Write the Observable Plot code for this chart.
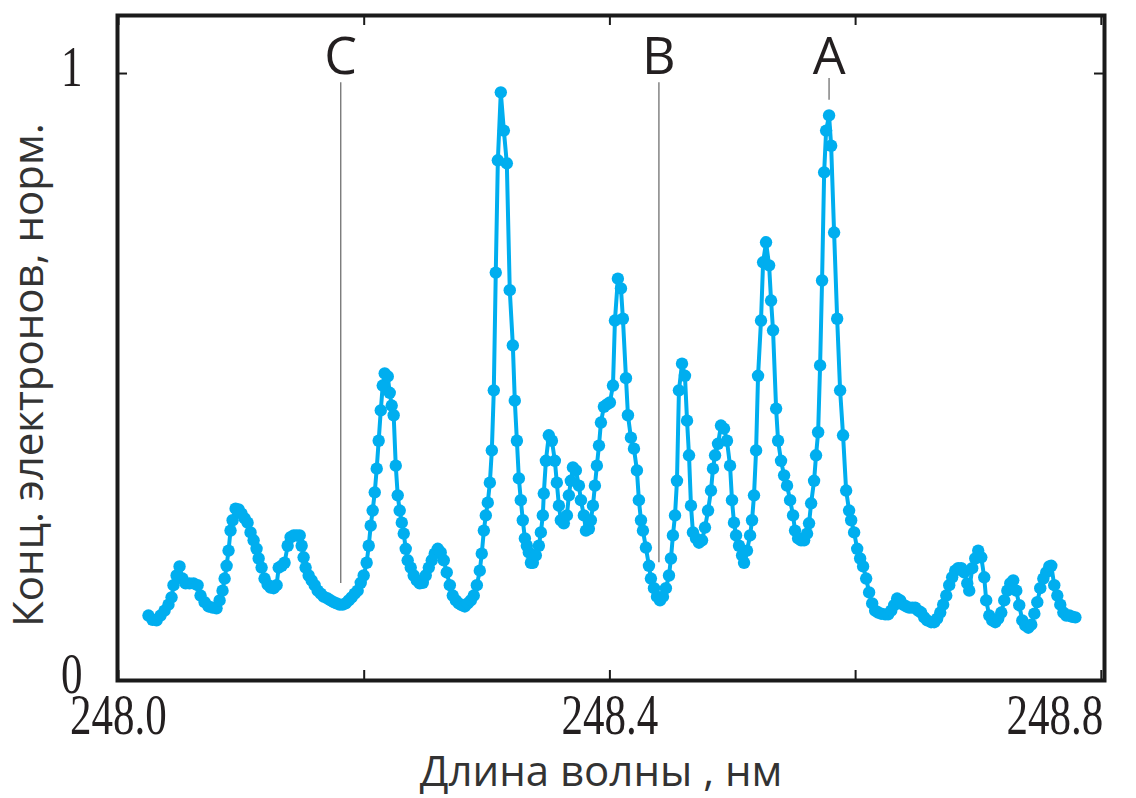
<!DOCTYPE html>
<html>
<head>
<meta charset="utf-8">
<script src="https://cdn.jsdelivr.net/npm/d3@7"></script>
<script src="https://cdn.jsdelivr.net/npm/@observablehq/plot@0.6"></script>
<style>
  html, body { margin: 0; padding: 0; background: #fff; }
  #chart { width: 1136px; height: 798px; }
</style>
</head>
<body>
<div id="chart"></div>
<script>
// ---- data ----
const wavelength = [
248.0244,248.0277,248.0310,248.0342,248.0375,248.0407,248.0432,248.0448,248.0473,248.0497,
248.0521,248.0546,248.0578,248.0611,248.0644,248.0668,248.0701,248.0733,248.0766,248.0798,
248.0823,248.0847,248.0864,248.0880,248.0896,248.0912,248.0929,248.0953,248.0978,248.1002,
248.1027,248.1051,248.1075,248.1100,248.1124,248.1141,248.1165,248.1189,248.1214,248.1238,
248.1263,248.1287,248.1304,248.1328,248.1352,248.1377,248.1401,248.1426,248.1450,248.1475,
248.1491,248.1507,248.1523,248.1548,248.1572,248.1597,248.1621,248.1646,248.1670,248.1703,
248.1727,248.1752,248.1776,248.1800,248.1825,248.1849,248.1874,248.1898,248.1923,248.1947,
248.1972,248.1996,248.2020,248.2037,248.2053,248.2069,248.2086,248.2102,248.2118,248.2135,
248.2151,248.2167,248.2192,248.2208,248.2224,248.2240,248.2257,248.2273,248.2289,248.2306,
248.2322,248.2338,248.2354,248.2379,248.2403,248.2428,248.2452,248.2477,248.2501,248.2526,
248.2550,248.2574,248.2599,248.2623,248.2648,248.2672,248.2697,248.2721,248.2746,248.2770,
248.2794,248.2819,248.2843,248.2868,248.2892,248.2917,248.2941,248.2957,248.2974,248.2990,
248.3006,248.3023,248.3039,248.3055,248.3071,248.3088,248.3112,248.3137,248.3161,248.3185,
248.3210,248.3226,248.3243,248.3259,248.3275,248.3291,248.3308,248.3324,248.3340,248.3357,
248.3373,248.3397,248.3422,248.3438,248.3454,248.3462,248.3479,248.3503,248.3528,248.3552,
248.3568,248.3585,248.3601,248.3625,248.3650,248.3666,248.3682,248.3699,248.3723,248.3748,
248.3764,248.3788,248.3805,248.3829,248.3845,248.3862,248.3878,248.3894,248.3911,248.3927,
248.3951,248.3976,248.4000,248.4025,248.4041,248.4065,248.4090,248.4106,248.4131,248.4147,
248.4171,248.4196,248.4220,248.4236,248.4253,248.4269,248.4293,248.4318,248.4334,248.4359,
248.4383,248.4408,248.4432,248.4456,248.4481,248.4497,248.4513,248.4530,248.4546,248.4562,
248.4587,248.4611,248.4628,248.4644,248.4660,248.4676,248.4701,248.4725,248.4750,248.4774,
248.4799,248.4823,248.4839,248.4856,248.4880,248.4904,248.4929,248.4953,248.4978,248.4994,
248.5010,248.5027,248.5051,248.5076,248.5092,248.5116,248.5141,248.5157,248.5173,248.5190,
248.5206,248.5230,248.5247,248.5271,248.5296,248.5312,248.5328,248.5353,248.5369,248.5393,
248.5418,248.5442,248.5467,248.5491,248.5507,248.5532,248.5556,248.5581,248.5605,248.5621,
248.5638,248.5662,248.5678,248.5695,248.5711,248.5727,248.5744,248.5760,248.5784,248.5801,
248.5825,248.5850,248.5874,248.5898,248.5923,248.5947,248.5964,248.5988,248.6013,248.6037,
248.6061,248.6086,248.6110,248.6135,248.6159,248.6184,248.6208,248.6241,248.6265,248.6290,
248.6314,248.6338,248.6363,248.6387,248.6412,248.6436,248.6461,248.6485,248.6509,248.6534,
248.6558,248.6583,248.6615,248.6640,248.6664,248.6689,248.6713,248.6738,248.6762,248.6786,
248.6811,248.6835,248.6860,248.6884,248.6909,248.6925,248.6949,248.6974,248.6998,248.7023,
248.7047,248.7063,248.7088,248.7112,248.7137,248.7161,248.7186,248.7210,248.7235,248.7259,
248.7283,248.7308,248.7332,248.7357,248.7381,248.7406,248.7430,248.7455,248.7479,248.7503,
248.7528,248.7552,248.7577,248.7593,248.7617,248.7642,248.7666,248.7691,248.7715,248.7740,
248.7764,248.7789
];

const concentration = [
0.107,0.100,0.099,0.107,0.115,0.125,0.137,0.157,0.173,0.188,
0.168,0.160,0.160,0.160,0.157,0.140,0.129,0.122,0.120,0.119,
0.132,0.148,0.168,0.189,0.214,0.247,0.264,0.283,0.282,0.275,
0.267,0.260,0.244,0.231,0.217,0.201,0.186,0.168,0.158,0.153,
0.152,0.157,0.186,0.189,0.194,0.222,0.236,0.239,0.239,0.239,
0.222,0.203,0.186,0.173,0.165,0.157,0.148,0.143,0.138,0.135,
0.132,0.129,0.127,0.125,0.125,0.127,0.132,0.137,0.143,0.148,
0.161,0.173,0.194,0.222,0.255,0.280,0.310,0.349,0.395,0.445,
0.486,0.506,0.501,0.474,0.453,0.437,0.354,0.305,0.280,0.260,
0.242,0.217,0.198,0.186,0.173,0.165,0.160,0.161,0.173,0.186,
0.198,0.209,0.217,0.211,0.198,0.178,0.157,0.140,0.132,0.127,
0.124,0.122,0.127,0.132,0.140,0.157,0.181,0.209,0.247,0.272,
0.293,0.326,0.379,0.478,0.672,0.857,0.969,0.906,0.852,0.643,
0.552,0.461,0.395,0.333,0.297,0.264,0.234,0.222,0.211,0.194,
0.194,0.206,0.222,0.244,0.272,0.308,0.362,0.404,0.395,0.362,
0.326,0.288,0.264,0.259,0.272,0.305,0.329,0.351,0.346,0.321,
0.297,0.272,0.247,0.250,0.264,0.288,0.321,0.354,0.387,0.425,
0.451,0.455,0.458,0.486,0.593,0.662,0.646,0.596,0.498,0.437,
0.400,0.382,0.346,0.297,0.264,0.247,0.219,0.189,0.168,0.152,
0.138,0.132,0.138,0.152,0.173,0.201,0.239,0.272,0.329,0.478,
0.522,0.502,0.428,0.371,0.288,0.244,0.234,0.227,0.231,0.252,
0.280,0.313,0.349,0.371,0.390,0.420,0.415,0.395,0.354,0.297,
0.260,0.239,0.222,0.206,0.194,0.214,0.239,0.264,0.305,0.379,
0.502,0.593,0.689,0.722,0.684,0.626,0.577,0.448,0.395,0.362,
0.338,0.321,0.297,0.272,0.247,0.234,0.231,0.231,0.242,0.259,
0.292,0.329,0.371,0.409,0.519,0.659,0.837,0.906,0.931,0.881,
0.738,0.596,0.478,0.404,0.313,0.280,0.264,0.244,0.217,0.201,
0.188,0.168,0.145,0.127,0.115,0.112,0.110,0.109,0.109,0.115,
0.124,0.135,0.132,0.125,0.122,0.120,0.120,0.120,0.115,0.112,
0.104,0.099,0.096,0.096,0.102,0.112,0.125,0.140,0.157,0.170,
0.181,0.185,0.185,0.178,0.160,0.148,0.185,0.201,0.214,0.203,
0.170,0.132,0.107,0.099,0.096,0.102,0.112,0.132,0.148,0.160,
0.165,0.148,0.124,0.099,0.091,0.087,0.092,0.110,0.129,0.152,
0.168,0.178,0.188,0.189,0.157,0.140,0.125,0.112,0.107,0.107,
0.105,0.104
];

// line markers C, B, A
const markerNames = ["C", "B", "A"];
const markerWavelengths = [248.1809, 248.4399, 248.5784];
const markerTops = [0.985, 0.985, 0.992];
const markerBottoms = [0.160, 0.194, 0.956];

// axes
const xTickMarks = [248.0, 248.2, 248.4, 248.6, 248.8];
const xTickLabelsCentered = [248.0, 248.4];
const xTickLabelsEnd = [248.8];
const yTickMarks = [0, 1];
const yTickLabels = [0, 1];
const xTitle = "Длина волны , нм";
const yTitle = "Конц. электронов, норм.";

// ---- build ----
const points = wavelength.map((w, i) => ({w, c: concentration[i]}));
const markers = markerNames.map((name, i) => ({
  name, w: markerWavelengths[i], top: markerTops[i], bottom: markerBottoms[i]
}));

const xDomain = [247.9992, 248.8026];
const yDomain = [0, 1.0956];
const tickLenY = (yDomain[1] - yDomain[0]) * 10 / 665;   // ~10px inward ticks
const tickLenX = (xDomain[1] - xDomain[0]) * 10 / 987;

const cyan = "#00aeef";
const ink = "#231f20";
const sans = "'Open Sans', 'Noto Sans', sans-serif";
const serif = "'Liberation Serif', 'Times New Roman', serif";
const tickFmt = d3.format(".1f");

const chart = Plot.plot({
  width: 1136,
  height: 798,
  marginLeft: 117,
  marginRight: 32,
  marginTop: 15,
  marginBottom: 118,
  style: {background: "#fff", color: ink, overflow: "visible"},
  x: {domain: xDomain},
  y: {domain: yDomain},
  marks: [
    // marker lines
    Plot.ruleX(markers, {x: "w", y1: "bottom", y2: "top", stroke: "#7a7a7a", strokeWidth: 1.4}),
    // spectrum
    Plot.line(points, {x: "w", y: "c", stroke: cyan, strokeWidth: 4, strokeLinejoin: "round"}),
    Plot.dot(points, {x: "w", y: "c", r: 6.2, fill: cyan, stroke: null}),
    // frame
    Plot.frame({stroke: "#1a1a1a", strokeWidth: 4}),
    // inward ticks
    Plot.ruleX(xTickMarks, {x: d => d, y1: yDomain[0], y2: yDomain[0] + tickLenY, stroke: "#1a1a1a", strokeWidth: 2}),
    Plot.ruleX(xTickMarks, {x: d => d, y1: yDomain[1] - tickLenY, y2: yDomain[1], stroke: "#1a1a1a", strokeWidth: 2}),
    Plot.ruleY(yTickMarks, {y: d => d, x1: xDomain[0], x2: xDomain[0] + tickLenX, stroke: "#1a1a1a", strokeWidth: 2}),
    Plot.ruleY(yTickMarks, {y: d => d, x1: xDomain[1] - tickLenX, x2: xDomain[1], stroke: "#1a1a1a", strokeWidth: 2}),
    // tick labels
    Plot.axisX(xTickLabelsCentered, {anchor: "bottom", tickSize: 0, tickPadding: 12, tickFormat: tickFmt,
      fontSize: 43, fontFamily: serif, fill: ink, label: null}),
    Plot.axisX(xTickLabelsEnd, {anchor: "bottom", tickSize: 0, tickPadding: 12, tickFormat: tickFmt,
      textAnchor: "end", dx: 2, fontSize: 43, fontFamily: serif, fill: ink, label: null}),
    Plot.axisY(yTickLabels, {anchor: "left", tickSize: 0, tickPadding: 35, tickFormat: d => String(d),
      dy: -6, fontSize: 43, fontFamily: serif, fill: ink, label: null}),
    // marker letters
    Plot.text(markers, {x: "w", y: () => 1.0, text: "name", lineAnchor: "bottom", fontSize: 52,
      fontFamily: sans, fill: ink}),
    // axis titles
    Plot.text([xTitle], {frameAnchor: "bottom", text: d => d, textAnchor: "middle", dx: -10, dy: 105,
      lineAnchor: "bottom", fontSize: 42, fontFamily: sans, fill: "#333"}),
    Plot.text([yTitle], {frameAnchor: "left", text: d => d, textAnchor: "middle", lineAnchor: "middle",
      rotate: -90, dx: -88, dy: 27, fontSize: 42, fontFamily: sans, fill: "#333"})
  ]
});

// the reference's numerals are drawn tall and narrow: stretch the serif tick labels vertically
d3.select(chart).selectAll("text").each(function () {
  const holder = this.closest("[font-family]");
  const ff = holder ? holder.getAttribute("font-family") : "";
  const t = this.getAttribute("transform");
  if (ff.includes("Serif") && t && t.includes("translate")) {
    this.setAttribute("transform", t + " scale(1,1.35)");
  }
});

document.getElementById("chart").appendChild(chart);
</script>
</body>
</html>
